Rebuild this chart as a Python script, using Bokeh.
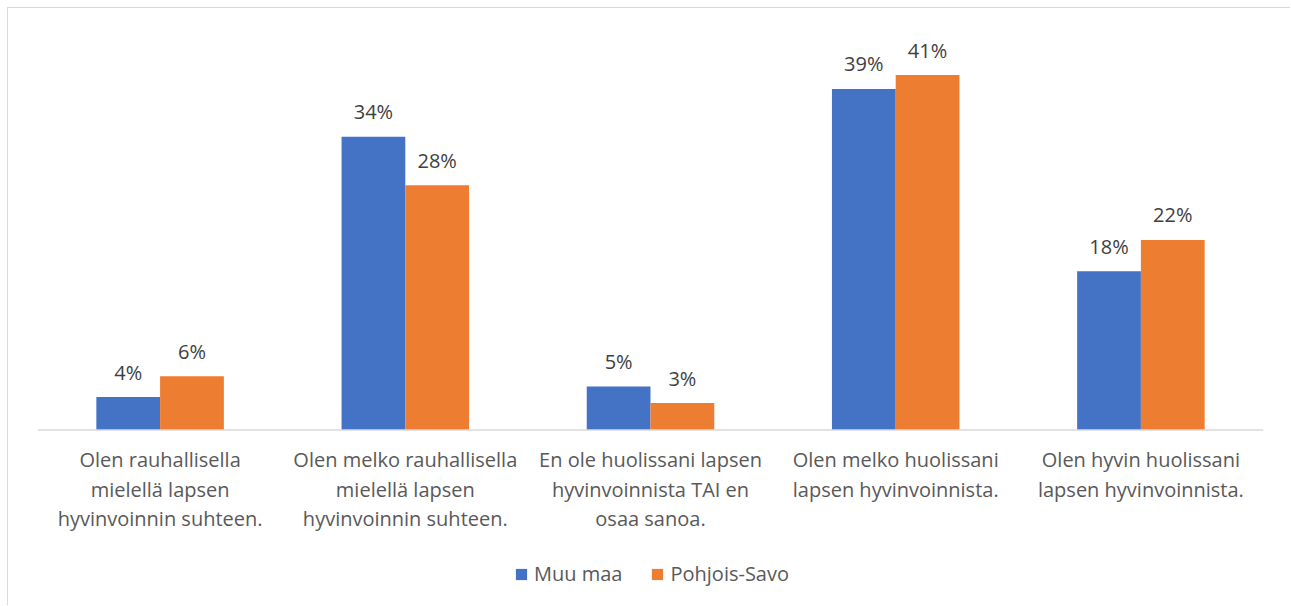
from bokeh.plotting import figure
from bokeh.models import ColumnDataSource, FactorRange, Range1d, Legend, LegendItem, Span
from bokeh.transform import dodge
from bokeh.core.properties import value
from bokeh.embed import file_html
from bokeh.resources import INLINE

categories = [
    "Olen rauhallisella\nmielellä lapsen\nhyvinvoinnin suhteen.",
    "Olen melko rauhallisella\nmielellä lapsen\nhyvinvoinnin suhteen.",
    "En ole huolissani lapsen\nhyvinvoinnista TAI en\nosaa sanoa.",
    "Olen melko huolissani\nlapsen hyvinvoinnista.",
    "Olen hyvin huolissani\nlapsen hyvinvoinnista.",
]
muu_maa = [3.8, 33.8, 5.0, 39.3, 18.3]
pohjois_savo = [6.2, 28.2, 3.1, 40.9, 21.9]
series_names = ["Muu maa", "Pohjois-Savo"]

muu_labels = [f"{round(v)}%" for v in muu_maa]
ps_labels = [f"{round(v)}%" for v in pohjois_savo]

source = ColumnDataSource(dict(
    cat=categories, muu=muu_maa, ps=pohjois_savo,
    muu_lab=muu_labels, ps_lab=ps_labels,
    base=[0] * len(categories),
))

FONT = "Open Sans"

p = figure(
    x_range=FactorRange(*categories, range_padding=0),
    y_range=Range1d(-20.34, 45),
    width=1283, height=598,
    output_backend="svg", toolbar_location=None,
    min_border_left=29, min_border_right=28,
    min_border_top=31, min_border_bottom=0,
    styles={"margin-left": "7px", "margin-top": "7px",
            "border-left": "1px solid #d9d9d9", "border-top": "1px solid #d9d9d9"},
)
p.outline_line_color = None
p.xgrid.grid_line_color = None
p.ygrid.grid_line_color = None
p.xaxis.visible = False
p.yaxis.visible = False

blue = "#4472C4"
orange = "#ED7D31"

r1 = p.vbar(x=dodge("cat", -0.13, range=p.x_range), top="muu", bottom="base", width=0.26,
            source=source, fill_color=blue, line_color=None)
r2 = p.vbar(x=dodge("cat", 0.13, range=p.x_range), top="ps", bottom="base", width=0.26,
            source=source, fill_color=orange, line_color=None)

# category axis baseline at value 0
p.add_layout(Span(location=0, dimension="width", line_color="#d9d9d9", line_width=1.5))

# category labels under the baseline
p.text(x="cat", y="base", text="cat", source=source,
       text_align="center", text_baseline="top", y_offset=16,
       text_font=value(FONT), text_font_size="20px", text_color="#595959",
       text_line_height=1.1)

p.text(x=dodge("cat", -0.13, range=p.x_range), y="muu", text="muu_lab", source=source,
       text_align="center", text_baseline="alphabetic", y_offset=-25,
       text_font=value(FONT), text_font_size="20px", text_color="#404040")
p.text(x=dodge("cat", 0.13, range=p.x_range), y="ps", text="ps_lab", source=source,
       text_align="center", text_baseline="alphabetic", y_offset=-25,
       text_font=value(FONT), text_font_size="20px", text_color="#404040")

legend = Legend(
    items=[LegendItem(label=series_names[0], renderers=[r1]),
           LegendItem(label=series_names[1], renderers=[r2])],
    orientation="horizontal", location=(477, 19),
    border_line_color=None, background_fill_alpha=0,
    padding=0, margin=0, spacing=28, label_standoff=6,
    glyph_width=14, glyph_height=14, label_height=14,
    label_text_font=FONT, label_text_font_size="20px", label_text_color="#595959",
)
p.add_layout(legend, "center")

open("out.html", "w").write(file_html(p, INLINE))
